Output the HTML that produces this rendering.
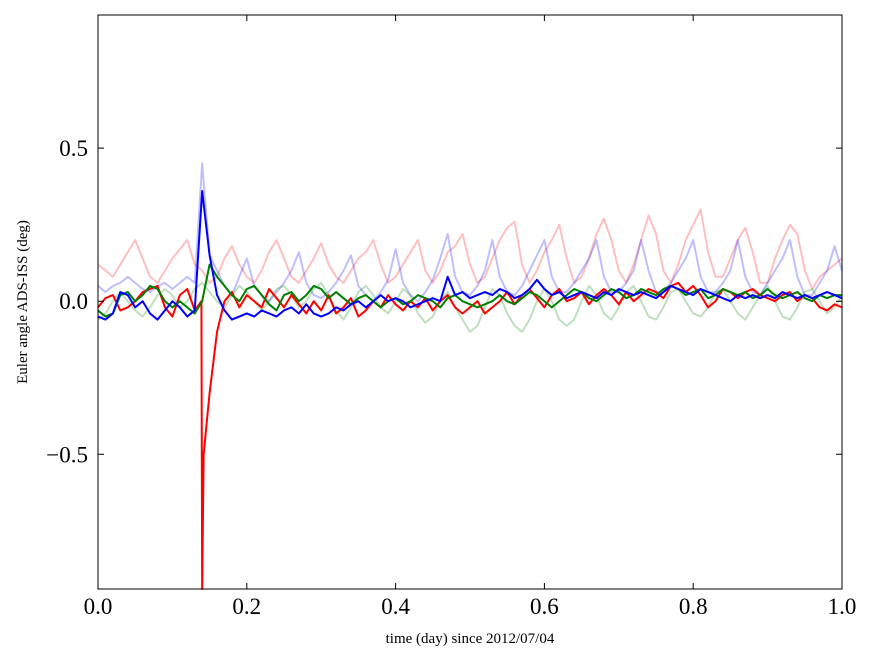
<!DOCTYPE html>
<html><head><meta charset="utf-8"><style>
html,body{margin:0;padding:0;background:#fff;}
svg text{font-family:"Liberation Serif",serif;}
</style></head><body>
<svg id="chart" width="875" height="662" viewBox="0 0 875 662" xmlns="http://www.w3.org/2000/svg">
<rect x="0" y="0" width="875" height="662" fill="#fff"/>
<g id="plot"></g>
<rect x="98" y="15" width="744" height="574" fill="none" stroke="#000" stroke-width="1"/>
<g id="ticks"></g>
<text x="470" y="643" font-size="15" text-anchor="middle">time (day) since 2012/07/04</text>
<text transform="translate(27,302) rotate(-90)" font-size="15" text-anchor="middle">Euler angle ADS-ISS (deg)</text>
</svg>
<script>
const xTicks=[0,0.2,0.4,0.6,0.8,1.0];
const xTickLabels=["0.0","0.2","0.4","0.6","0.8","1.0"];
const yTicks=[0.5,0,-0.5];
const yTickLabels=["0.5","0.0","\u22120.5"];
const faintRed=[0.12,0.1,0.08,0.12,0.16,0.2,0.14,0.08,0.06,0.1,0.14,0.17,0.2,0.12,0.1,0.06,0.08,0.14,0.18,0.12,0.08,0.06,0.1,0.16,0.2,0.14,0.08,0.06,0.1,0.14,0.19,0.12,0.08,0.06,0.1,0.14,0.16,0.2,0.12,0.06,0.08,0.12,0.16,0.2,0.1,0.06,0.1,0.16,0.18,0.22,0.12,0.06,0.08,0.14,0.2,0.24,0.26,0.12,0.06,0.1,0.16,0.2,0.25,0.14,0.06,0.08,0.14,0.22,0.27,0.2,0.1,0.06,0.12,0.2,0.28,0.22,0.1,0.06,0.12,0.2,0.25,0.3,0.16,0.08,0.08,0.14,0.2,0.24,0.16,0.06,0.06,0.14,0.2,0.25,0.22,0.1,0.04,0.08,0.1,0.12,0.14];
const faintBlue=[0.05,0.03,0.05,0.06,0.08,0.06,0.04,0.03,0.05,0.06,0.04,0.06,0.08,0.06,0.45,0.15,0.1,0.05,0.02,0.08,0.14,0.05,0.02,0.0,0.03,0.06,0.1,0.16,0.06,0.02,0.01,0.03,0.06,0.1,0.15,0.05,0.02,0.0,0.03,0.07,0.17,0.06,0.02,0.0,0.03,0.07,0.14,0.22,0.08,0.03,0.02,0.05,0.1,0.2,0.08,0.03,0.02,0.05,0.1,0.15,0.2,0.08,0.03,0.03,0.06,0.1,0.14,0.2,0.08,0.03,0.03,0.06,0.1,0.2,0.1,0.03,0.03,0.06,0.1,0.14,0.2,0.08,0.03,0.03,0.06,0.1,0.2,0.08,0.03,0.02,0.06,0.1,0.14,0.2,0.08,0.02,0.02,0.06,0.1,0.18,0.1];
const faintGreen=[-0.06,-0.04,0.0,0.03,0.0,-0.03,-0.05,-0.02,0.02,0.04,0.02,-0.02,0.0,0.04,0.06,0.03,0.0,-0.02,0.02,0.05,0.03,0.0,-0.03,0.0,0.04,0.05,0.02,-0.02,0.0,0.04,0.06,0.02,-0.03,-0.06,-0.02,0.03,0.05,0.02,-0.02,-0.04,0.0,0.04,0.02,-0.04,-0.07,-0.05,0.0,0.03,-0.02,-0.06,-0.1,-0.08,-0.02,0.04,0.02,-0.04,-0.08,-0.1,-0.06,0.0,0.04,0.0,-0.06,-0.08,-0.06,0.0,0.05,0.02,-0.04,-0.06,-0.02,0.03,0.05,0.0,-0.05,-0.06,-0.02,0.03,0.04,0.0,-0.04,-0.05,-0.02,0.03,0.04,0.0,-0.04,-0.06,-0.02,0.02,0.05,0.0,-0.05,-0.06,-0.02,0.03,0.04,0.0,-0.04,-0.02,0.02];
const redDays=[0,0.01,0.02,0.03,0.04,0.05,0.06,0.07,0.08,0.09,0.1,0.11,0.12,0.13,0.139,0.14,0.142,0.15,0.16,0.165,0.17,0.18,0.19,0.2,0.21,0.22,0.23,0.24,0.25,0.26,0.27,0.28,0.29,0.3,0.31,0.32,0.33,0.34,0.35,0.36,0.37,0.38,0.39,0.4,0.41,0.42,0.43,0.44,0.45,0.46,0.47,0.48,0.49,0.5,0.51,0.52,0.53,0.54,0.55,0.56,0.57,0.58,0.59,0.6,0.61,0.62,0.63,0.64,0.65,0.66,0.67,0.68,0.69,0.7,0.71,0.72,0.73,0.74,0.75,0.76,0.77,0.78,0.79,0.8,0.81,0.82,0.83,0.84,0.85,0.86,0.87,0.88,0.89,0.9,0.91,0.92,0.93,0.94,0.95,0.96,0.97,0.98,0.99,1.0];
const redVals=[-0.02,0.01,0.02,-0.03,-0.02,0.0,0.03,0.04,0.05,-0.02,-0.05,0.02,0.04,-0.03,0.0,-0.94,-0.5,-0.3,-0.1,-0.05,0.0,0.03,-0.02,0.02,0.0,-0.02,0.04,0.01,-0.02,0.02,-0.01,-0.04,0.0,-0.03,0.02,-0.04,-0.02,0.01,-0.05,-0.03,0.0,-0.02,0.02,-0.01,-0.03,0.0,-0.02,0.01,-0.03,0.0,0.02,-0.02,-0.04,-0.02,0.0,-0.04,-0.02,0.0,0.03,-0.01,0.02,0.04,0.01,-0.02,0.02,0.04,0.0,0.01,0.03,-0.01,0.02,0.04,0.02,-0.01,0.03,0.0,0.02,0.04,0.03,0.01,0.05,0.06,0.03,0.05,0.02,-0.02,0.0,0.04,0.03,0.01,0.03,0.04,0.02,0.01,0.0,0.02,0.03,0.0,0.02,0.01,-0.02,-0.03,-0.01,-0.02];
const greenVals=[-0.03,-0.05,-0.04,0.02,0.03,0.0,0.02,0.05,0.04,0.0,-0.02,0.0,-0.02,-0.04,0.0,0.12,0.08,0.05,0.02,0.0,0.04,0.05,0.02,-0.01,-0.03,0.02,0.03,0.0,0.02,0.05,0.04,0.01,0.03,0.01,-0.01,0.01,0.02,0.0,-0.02,0.0,0.01,-0.01,0.0,0.02,0.01,0.0,-0.02,0.01,0.02,0.0,-0.01,-0.02,-0.01,0.0,0.02,0.0,-0.01,0.01,0.03,0.02,0.0,-0.02,0.0,0.02,0.04,0.03,0.01,0.0,0.02,0.04,0.03,0.01,0.02,0.04,0.03,0.02,0.04,0.05,0.04,0.02,0.03,0.04,0.01,0.02,0.04,0.03,0.02,0.03,0.01,0.02,0.04,0.02,0.01,0.02,0.03,0.01,0.0,0.02,0.01,0.02,0.02];
const blueVals=[-0.05,-0.06,-0.04,0.03,0.02,-0.02,0.0,-0.04,-0.06,-0.03,0.0,-0.02,-0.05,-0.03,0.36,0.15,0.02,-0.03,-0.06,-0.05,-0.04,-0.05,-0.03,-0.04,-0.05,-0.03,-0.02,-0.04,-0.01,-0.04,-0.05,-0.04,-0.02,-0.03,-0.01,0.0,-0.02,0.0,0.02,0.0,0.01,0.0,-0.02,-0.01,0.0,0.01,0.0,0.08,0.02,0.03,0.01,0.02,0.03,0.02,0.04,0.03,0.01,0.02,0.04,0.07,0.04,0.02,0.03,0.01,0.02,0.03,0.02,0.01,0.03,0.02,0.04,0.03,0.02,0.03,0.02,0.01,0.03,0.05,0.04,0.03,0.02,0.04,0.03,0.02,0.01,0.0,0.02,0.01,0.02,0.01,0.02,0.01,0.03,0.02,0.01,0.02,0.01,0.02,0.03,0.02,0.01];

const X0=98,X1=842,Y0=15,Y1=589,YMAX=0.935,YMIN=-0.94;
function sx(d){return X0+(d-0)/(1-0)*(X1-X0);}
function sy(v){return Y0+(YMAX-v)/(YMAX-YMIN)*(Y1-Y0);}
const NS="http://www.w3.org/2000/svg";
const plot=document.getElementById('plot');
const ticks=document.getElementById('ticks');
function path(xs,ys,color,op,name){
  let d="";
  for(let i=0;i<ys.length;i++){d+=(i?"L":"M")+sx(xs[i]).toFixed(2)+","+sy(ys[i]).toFixed(2);}
  const p=document.createElementNS(NS,'path');
  p.setAttribute('d',d);p.setAttribute('fill','none');p.setAttribute('stroke',color);
  p.setAttribute('stroke-width','2');p.setAttribute('stroke-opacity',op);p.setAttribute('stroke-linejoin','round');
  
  
  plot.appendChild(p);
}
function idx(a){return a.map((_,i)=>i/(a.length-1));}
path(idx(faintRed),faintRed,'#ff0000',0.25,'series-faint-red');
path(idx(faintBlue),faintBlue,'#0000ff',0.25,'series-faint-blue');
path(idx(faintGreen),faintGreen,'#008000',0.25,'series-faint-green');
path(redDays,redVals,'#ff0000',1,'series-red');
path(idx(greenVals),greenVals,'#008000',1,'series-green');
path(idx(blueVals),blueVals,'#0000ff',1,'series-blue');

xTicks.forEach((t,i)=>{
  const x=sx(t);
  const l=document.createElementNS(NS,'path');
  l.setAttribute('d',`M${x},${Y1}V${Y1-6}M${x},${Y0}V${Y0+6}`);l.setAttribute('stroke','#000');
  
  
  ticks.appendChild(l);
  const tx=document.createElementNS(NS,'text');
  tx.setAttribute('x',x);tx.setAttribute('y',614);tx.setAttribute('font-size','23');tx.setAttribute('text-anchor','middle');
  tx.textContent=xTickLabels[i];
  
  
  ticks.appendChild(tx);
});
yTicks.forEach((t,i)=>{
  const y=sy(t);
  const l=document.createElementNS(NS,'path');
  l.setAttribute('d',`M${X0},${y}H${X0+6}M${X1},${y}H${X1-6}`);l.setAttribute('stroke','#000');
  
  
  ticks.appendChild(l);
  const tx=document.createElementNS(NS,'text');
  tx.setAttribute('x',88);tx.setAttribute('y',y+8);tx.setAttribute('font-size','23');tx.setAttribute('text-anchor','end');
  tx.textContent=yTickLabels[i];
  
  
  ticks.appendChild(tx);
});
</script>
</body></html>
